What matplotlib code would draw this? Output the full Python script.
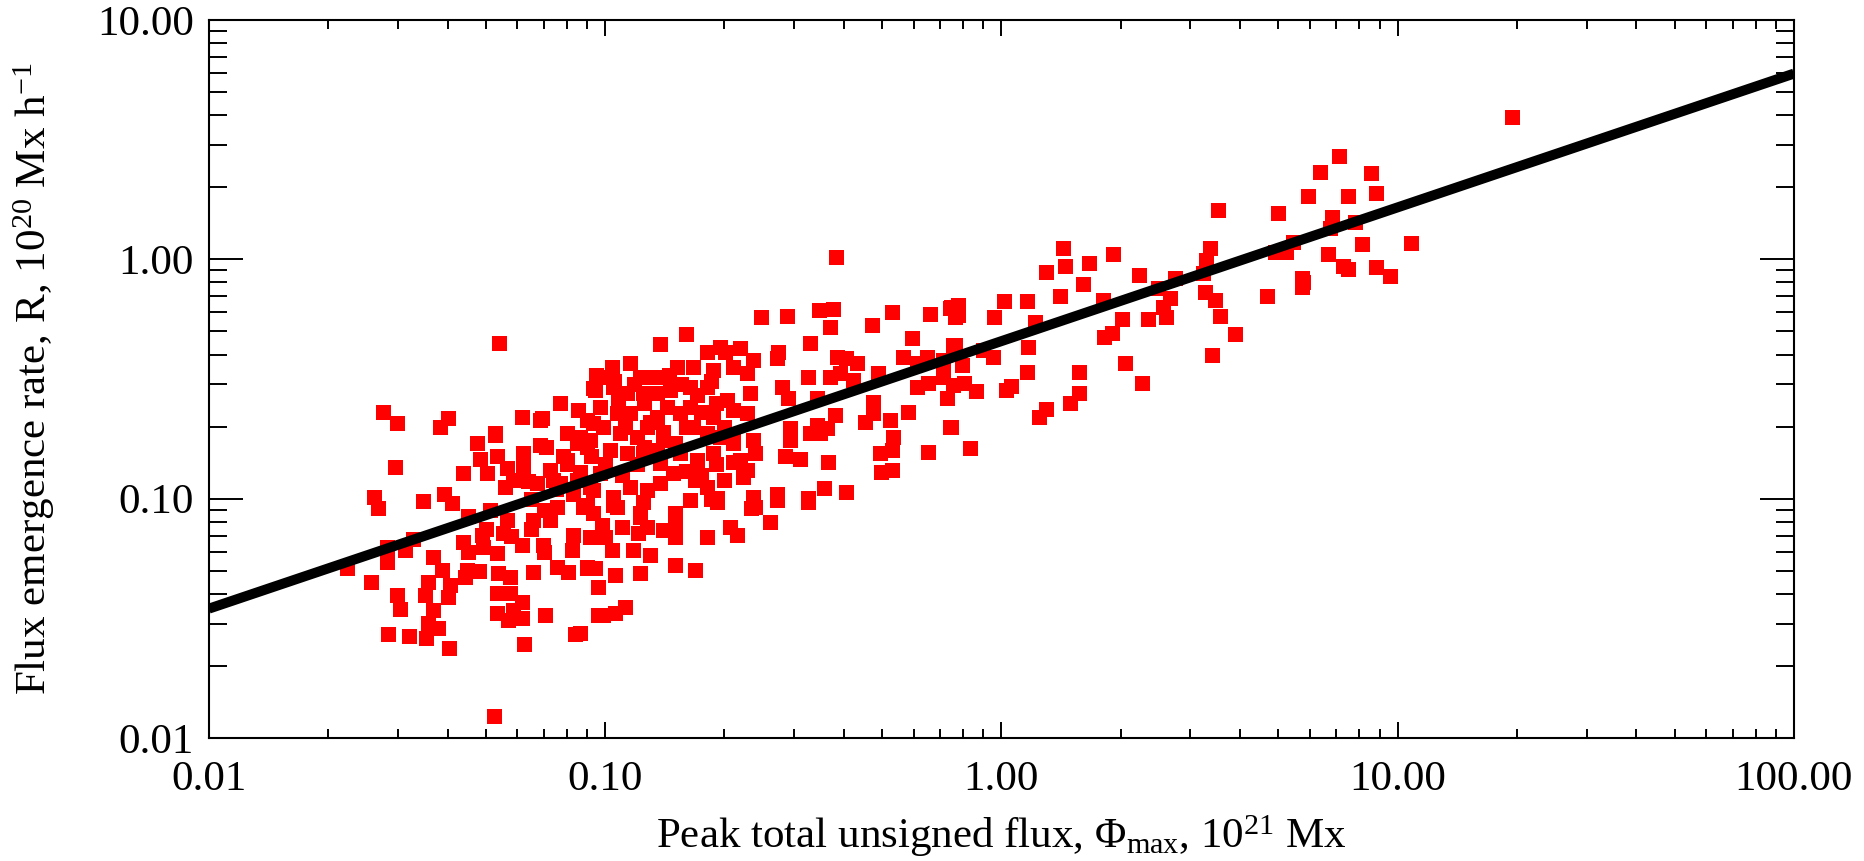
import matplotlib
matplotlib.use("Agg")
import matplotlib.pyplot as plt
from matplotlib.ticker import LogLocator, FixedLocator, FixedFormatter, NullFormatter

plt.rcParams['font.family'] = ['Liberation Serif', 'DejaVu Serif']
plt.rcParams['mathtext.fontset'] = 'custom'
plt.rcParams['mathtext.rm'] = 'Liberation Serif'
plt.rcParams['mathtext.it'] = 'Liberation Serif:italic'

# Peak total unsigned flux (10^21 Mx)
flux = [
    0.0275, 0.0299, 0.0383, 0.0402, 0.0295, 0.0437, 0.0261, 0.0267, 0.0347, 0.0392,
    0.0410, 0.0327, 0.0312, 0.0281, 0.0281, 0.0223, 0.0257, 0.0299, 0.0303, 0.0368,
    0.0387, 0.0358, 0.0351, 0.0406, 0.0402, 0.0368, 0.0358, 0.0379, 0.0354, 0.0283,
    0.0320, 0.0403, 0.0437, 0.0447, 0.0443, 0.0488, 0.0492, 0.0512, 0.0532, 0.0537,
    0.0575, 0.0532, 0.0575, 0.0615, 0.0532, 0.0569, 0.0615, 0.0586, 0.0624, 0.0704,
    0.0839, 0.0960, 0.0524, 0.0615, 0.0658, 0.0698, 0.0754, 0.0807, 0.0823, 0.0830,
    0.0898, 0.0915, 0.0960, 0.0658, 0.0725, 0.0754, 0.0564, 0.0553, 0.0474, 0.0527,
    0.0502, 0.0483, 0.0532, 0.0564, 0.0558, 0.0615, 0.0691, 0.0769, 0.0621, 0.0639,
    0.0684, 0.0725, 0.0799, 0.0855, 0.0933, 0.0799, 0.0863, 0.0830, 0.0880, 0.0933,
    0.0933, 0.0739, 0.0898,
    0.0540, 0.0711, 0.0671, 0.0586, 0.0769, 0.0621, 0.0783, 0.0684, 0.0527, 0.0863,
    0.382, 0.248, 0.288, 0.347, 0.376, 0.369, 0.470, 0.528, 0.660, 0.748,
    0.763, 0.160, 0.1374, 0.593, 0.755, 0.3285, 0.273, 0.2707, 0.3837, 0.4064,
    0.431, 0.565, 0.647, 0.611, 0.4886, 0.713, 0.611, 0.653, 0.727, 0.755,
    0.325, 0.369, 0.391, 0.4225, 0.2787, 0.2897, 0.3415, 0.4746, 0.4746, 0.582,
    0.523, 0.452, 0.380, 0.741, 0.2925, 0.3415, 0.362, 0.533, 0.2925, 0.3285,
    0.348, 0.4935, 0.528, 0.653, 0.284, 0.310, 0.365, 0.498, 0.528, 0.2707,
    0.325, 0.357, 0.405, 0.236, 0.2386, 0.236, 0.2386, 0.2104, 0.2229, 0.2275,
    0.2005, 0.2188, 0.236, 0.1803, 0.1948, 0.1873, 0.2104, 0.2275, 0.2318, 0.2275,
    0.2104, 0.2025, 0.1873, 0.1803, 0.1636, 0.1668, 0.1514, 0.1335, 0.1348, 0.1456,
    0.1429, 0.1543, 0.1636, 0.1668, 0.1803, 0.1948, 0.1873, 0.170, 0.1543, 0.140,
    0.1272, 0.1348, 0.1247, 0.1223, 0.1154, 0.1038, 0.0989, 0.0942, 0.1048, 0.1132,
    0.0970, 0.1069, 0.1154, 0.0898, 0.0989, 0.1089, 0.120, 0.0915, 0.1028, 0.1132,
    0.1247, 0.1374, 0.1485, 0.1374, 0.1272, 0.1154, 0.1048, 0.0915, 0.0970, 0.1683,
    0.1803, 0.191, 0.1636, 0.150, 0.1223, 0.1069, 0.0933, 0.2104, 0.2188,
    0.0898, 0.1048, 0.1247, 0.191, 0.234, 0.2707, 0.325, 0.098, 0.110, 0.1223,
    0.1272, 0.140, 0.150, 0.150, 0.0915, 0.0998, 0.121, 0.1803, 0.2064, 0.2146,
    0.2604, 0.1038, 0.1177, 0.1297, 0.0898, 0.0942, 0.1058, 0.1223, 0.150, 0.1683,
    0.096, 0.0989, 0.1058, 0.1122, 0.0863,
    5.94, 3.52, 4.99, 1.432, 1.914, 1.445, 1.664, 1.294, 2.226, 1.607,
    3.36, 3.29, 3.23, 2.74, 2.485, 4.90, 5.24, 5.45, 5.72, 5.72,
    4.67, 1.404, 1.157, 1.016, 0.741, 0.778, 0.778, 0.957, 1.80, 2.66,
    3.26, 3.46, 2.56, 2.01, 2.345, 2.60, 3.56, 3.88, 1.214, 1.897,
    1.815, 3.39, 0.763, 0.899, 0.953, 1.168, 0.793, 0.713, 2.05, 1.157,
    1.57, 0.713, 0.804, 0.865, 1.06, 1.026, 2.257, 1.57, 1.488, 0.730,
    1.294, 1.245, 0.744, 0.832,
    19.4, 7.11, 6.36, 8.54, 7.50, 8.81, 6.83, 7.80, 6.74, 8.11,
    10.8, 6.67, 7.28, 7.50, 8.81, 9.55, 5.77,
    0.095, 0.105, 0.118, 0.125, 0.108, 0.112, 0.130, 0.140, 0.125, 0.135,
    0.150, 0.160, 0.175, 0.170, 0.155, 0.145, 0.185, 0.190, 0.200, 0.210,
    0.100, 0.092, 0.085, 0.110, 0.120, 0.160, 0.175, 0.190, 0.200, 0.185,
    0.060, 0.065, 0.070, 0.075, 0.080, 0.085, 0.045, 0.050, 0.058, 0.065,
    0.070, 0.045, 0.048,
]

# Flux emergence rate (10^20 Mx/h)
rate = [
    0.231, 0.207, 0.200, 0.217, 0.135, 0.128, 0.102, 0.0916, 0.0980, 0.1045,
    0.0955, 0.0676, 0.0610, 0.0630, 0.0545, 0.0514, 0.0450, 0.0396, 0.0347, 0.0572,
    0.0503, 0.0450, 0.0396, 0.0436, 0.0389, 0.0342, 0.0301, 0.0287, 0.0261, 0.0272,
    0.0267, 0.0237, 0.0661, 0.0503, 0.0472, 0.0705, 0.0630, 0.0896, 0.0591, 0.0488,
    0.0472, 0.0402, 0.0402, 0.0371, 0.0332, 0.0311, 0.0316, 0.0342, 0.0248, 0.0326,
    0.0272, 0.0326, 0.0123, 0.0640, 0.0495, 0.0640, 0.0519, 0.0495, 0.0610, 0.0705,
    0.0511, 0.0693, 0.0428, 0.0814, 0.0814, 0.0925, 0.0814, 0.0716, 0.170, 0.1875,
    0.1276, 0.147, 0.150, 0.134, 0.112, 0.220, 0.217, 0.250, 0.136, 0.118,
    0.1675, 0.132, 0.1875, 0.2345, 0.289, 0.145, 0.1295, 0.105, 0.0925, 0.207,
    0.1086, 0.1197, 0.165,
    0.448, 0.165, 0.116, 0.1197, 0.116, 0.1546, 0.150, 0.213, 0.1845, 0.1814,
    1.025, 0.575, 0.581, 0.614, 0.618, 0.523, 0.531, 0.600, 0.589, 0.634,
    0.575, 0.486, 0.4415, 0.4677, 0.4385, 0.4457, 0.411, 0.3857, 0.392, 0.3857,
    0.3674, 0.392, 0.392, 0.3674, 0.334, 0.3285, 0.2935, 0.303, 0.2625, 0.298,
    0.323, 0.323, 0.334, 0.313, 0.2935, 0.2625, 0.2625, 0.254, 0.227, 0.231,
    0.213, 0.2097, 0.2236, 0.200, 0.1967, 0.203, 0.1967, 0.1814, 0.1758, 0.1875,
    0.1875, 0.1546, 0.1596, 0.157, 0.150, 0.147, 0.1426, 0.1295, 0.132, 0.105,
    0.1003, 0.1104, 0.1069, 0.1758, 0.1546, 0.102, 0.0925, 0.1426, 0.1234, 0.132,
    0.411, 0.4246, 0.3796, 0.411, 0.4313, 0.3446, 0.3557, 0.334, 0.2754, 0.227,
    0.2345, 0.258, 0.220, 0.2935, 0.2935, 0.3557, 0.3557, 0.323, 0.2754, 0.2843,
    0.242, 0.227, 0.242, 0.200, 0.1875, 0.1814, 0.1546, 0.145, 0.1546, 0.1758,
    0.200, 0.220, 0.2754, 0.323, 0.3674, 0.3557, 0.323, 0.2843, 0.2935, 0.2754,
    0.242, 0.227, 0.227, 0.213, 0.200, 0.1875, 0.1814, 0.1758, 0.1596, 0.1546,
    0.1546, 0.1405, 0.1276, 0.116, 0.1086, 0.112, 0.102, 0.112, 0.1276, 0.1197,
    0.112, 0.1003, 0.0987, 0.0868, 0.0868, 0.0925, 0.0868, 0.1814, 0.145,
    0.094, 0.094, 0.0970, 0.097, 0.091, 0.0987, 0.097, 0.0776, 0.0763, 0.084,
    0.0763, 0.0739, 0.0788, 0.0693, 0.0693, 0.0693, 0.0716, 0.0693, 0.0763, 0.0705,
    0.080, 0.0610, 0.0610, 0.0581, 0.0519, 0.0511, 0.048, 0.0488, 0.0528, 0.0503,
    0.0428, 0.0326, 0.0332, 0.0354, 0.0274,
    1.839, 1.607, 1.556, 1.111, 1.052, 0.938, 0.968, 0.888, 0.860, 0.788,
    1.111, 0.993, 0.874, 0.833, 0.757, 1.076, 1.076, 1.184, 0.833, 0.768,
    0.702, 0.702, 0.671, 0.671, 0.624, 0.644, 0.585, 0.575, 0.676, 0.687,
    0.732, 0.676, 0.634, 0.561, 0.561, 0.572, 0.580, 0.488, 0.548, 0.491,
    0.472, 0.398, 0.4385, 0.418, 0.392, 0.4313, 0.3615, 0.3796, 0.3674, 0.339,
    0.339, 0.323, 0.303, 0.2825, 0.2955, 0.2843, 0.305, 0.2754, 0.2518, 0.2625,
    0.236, 0.219, 0.200, 0.162,
    3.94, 2.70, 2.32, 2.30, 1.839, 1.888, 1.498, 1.436, 1.347, 1.155,
    1.173, 1.052, 0.938, 0.908, 0.931, 0.852, 0.806,
    0.330, 0.310, 0.300, 0.250, 0.260, 0.200, 0.210, 0.190, 0.165, 0.160,
    0.170, 0.200, 0.230, 0.270, 0.300, 0.330, 0.310, 0.250, 0.200, 0.170,
    0.140, 0.150, 0.170, 0.125, 0.140, 0.130, 0.125, 0.140, 0.120, 0.100,
    0.120, 0.100, 0.090, 0.110, 0.140, 0.120, 0.085, 0.075, 0.070, 0.075,
    0.060, 0.060, 0.050,
]

# Power-law fit line end points
fit_flux = [0.01, 100.0]
fit_rate = [0.0347, 5.97]

x_ticks = [0.01, 0.1, 1.0, 10.0, 100.0]
x_ticklabels = ["0.01", "0.10", "1.00", "10.00", "100.00"]
y_ticks = [0.01, 0.1, 1.0, 10.0]
y_ticklabels = ["0.01", "0.10", "1.00", "10.00"]

fig = plt.figure(figsize=(18.64, 8.61), dpi=100)
ax = fig.add_axes([0.1121, 0.1429, 0.8503, 0.8339])

ax.plot(flux, rate, linestyle='none', marker='s', markersize=10.8,
        markerfacecolor='#ff0000', markeredgewidth=0, color='#ff0000', zorder=2)
ax.plot(fit_flux, fit_rate, color='black', linewidth=7.2, solid_capstyle='butt', zorder=3)

ax.set_xscale('log')
ax.set_yscale('log')
ax.set_xlim(0.01, 100)
ax.set_ylim(0.01, 10)

ax.xaxis.set_major_locator(FixedLocator(x_ticks))
ax.xaxis.set_major_formatter(FixedFormatter(x_ticklabels))
ax.yaxis.set_major_locator(FixedLocator(y_ticks))
ax.yaxis.set_major_formatter(FixedFormatter(y_ticklabels))
ax.xaxis.set_minor_locator(LogLocator(base=10, subs=range(2, 10), numticks=20))
ax.yaxis.set_minor_locator(LogLocator(base=10, subs=range(2, 10), numticks=20))
ax.xaxis.set_minor_formatter(NullFormatter())
ax.yaxis.set_minor_formatter(NullFormatter())

ax.tick_params(axis='x', which='major', direction='in', length=11.5, width=1.4,
               top=True, bottom=True, labelsize=31, pad=16, colors='black')
ax.tick_params(axis='x', which='minor', direction='in', length=6.5, width=1.4,
               top=True, bottom=True)
ax.tick_params(axis='y', which='major', direction='in', length=24.5, width=1.4,
               left=True, right=True, labelsize=31, pad=11, colors='black')
ax.tick_params(axis='y', which='minor', direction='in', length=13, width=1.4,
               left=True, right=True)
for sp in ax.spines.values():
    sp.set_linewidth(1.5)

ax.set_xlabel(r'Peak total unsigned flux, $\Phi_{\mathrm{max}}$, 10$^{21}$ Mx', fontsize=31)
ax.set_ylabel(r'Flux emergence rate, R, 10$^{20}$ Mx h$^{-1}$', fontsize=31)
ax.xaxis.set_label_coords(0.5, -0.105)
ax.yaxis.set_label_coords(-0.096, 0.5)

fig.savefig('out.png', dpi=100)
